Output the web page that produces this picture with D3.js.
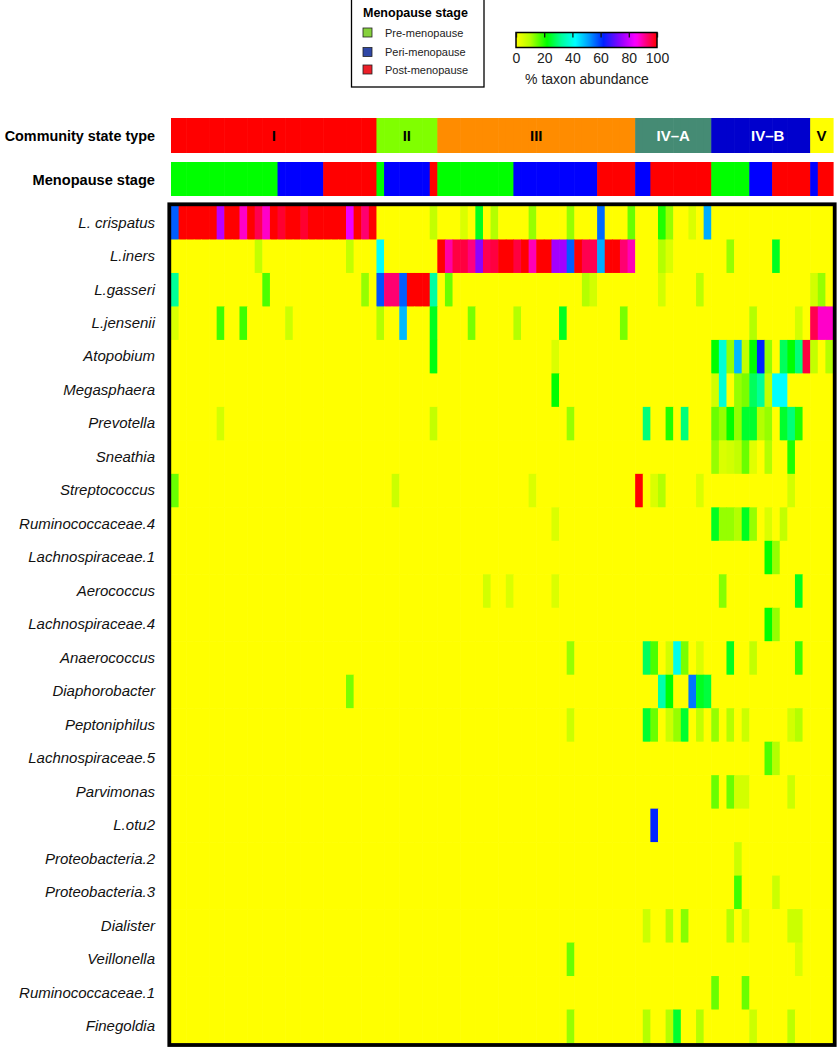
<!DOCTYPE html>
<html><head><meta charset="utf-8">
<script src="https://cdn.jsdelivr.net/npm/d3@7/dist/d3.min.js"></script>
<style>body{margin:0;background:#fff;font-family:"Liberation Sans",Arial,sans-serif}</style>
</head><body><svg id="c" width="837" height="1050"></svg>
<script>
// ---------------- data ----------------
const taxa = ["L. crispatus","L.iners","L.gasseri","L.jensenii","Atopobium","Megasphaera","Prevotella","Sneathia","Streptococcus","Ruminococcaceae.4","Lachnospiraceae.1","Aerococcus","Lachnospiraceae.4","Anaerococcus","Diaphorobacter","Peptoniphilus","Lachnospiraceae.5","Parvimonas","L.otu2","Proteobacteria.2","Proteobacteria.3","Dialister","Veillonella","Ruminococcaceae.1","Finegoldia"];
const nSamples = 87;
const cstLabels = ["I","II","III","IV\u2013A","IV\u2013B","V"];
const cstCounts = [27,8,26,10,13,3];
const menopauseStages = ["Pre-menopause","Peri-menopause","Post-menopause"];
// runs of [stage index, number of samples], left to right
const menopauseRuns = [[0,14],[1,6],[2,7],[0,1],[1,6],[2,1],[0,10],[1,11],[2,5],[1,2],[2,8],[0,5],[1,3],[2,5],[1,1],[2,2]];
const legendTicks = [0,20,40,60,80,100];
// non-zero % abundance per taxon: [sample index, value]
const crispatus = [[0,57],[1,100],[2,100],[3,100],[4,100],[5,100],[6,78],[7,100],[8,100],[9,88],[10,100],[11,95],[12,88],[13,100],[14,97],[15,100],[16,100],[17,97],[18,100],[19,100],[20,100],[21,100],[22,100],[23,83],[24,100],[25,93],[26,100],[34,8],[38,5],[40,24],[42,10],[47,12],[52,12],[56,56],[60,15],[64,20],[65,12],[68,5],[70,50]];
const iners = [[11,8],[23,8],[27,42],[35,100],[36,90],[37,96],[38,96],[39,92],[40,74],[41,95],[42,96],[43,100],[44,100],[45,96],[46,100],[47,89],[48,100],[49,100],[50,76],[51,76],[52,57],[53,100],[54,95],[55,95],[56,50],[57,100],[58,100],[59,93],[60,89],[64,10],[65,5],[73,12],[79,24]];
const gasseri = [[0,32],[12,17],[25,12],[27,58],[28,93],[29,93],[30,57],[31,100],[32,100],[33,100],[34,33],[36,15],[54,10],[55,6],[64,6],[69,9],[84,6],[85,12]];
const jensenii = [[0,5],[6,18],[9,18],[15,7],[27,10],[30,49],[34,24],[39,14],[45,10],[51,24],[59,14],[76,10],[82,6],[84,95],[85,88],[86,88]];
const atopobium = [[34,23],[50,5],[71,22],[72,38],[73,12],[74,49],[75,8],[76,22],[77,62],[78,12],[80,28],[81,22],[82,30],[83,96],[84,8],[86,10]];
const megasphaera = [[50,22],[71,6],[72,38],[74,12],[75,14],[76,28],[77,32],[78,8],[79,42],[80,42]];
const prevotella = [[6,6],[34,8],[52,12],[62,30],[65,20],[67,30],[71,15],[72,12],[73,22],[74,12],[75,25],[76,25],[77,10],[78,12],[80,25],[81,30],[82,20]];
const sneathia = [[71,12],[72,5],[73,6],[74,8],[75,15],[76,4],[78,10],[81,20]];
const streptococcus = [[0,15],[29,7],[47,5],[61,100],[63,5],[64,10],[69,5],[81,6]];
const rumino4 = [[50,5],[71,24],[72,12],[73,12],[74,10],[75,24],[76,12],[78,5],[80,8]];
const lachno1 = [[78,22],[79,12]];
const aerococcus = [[41,6],[44,5],[50,5],[72,13],[82,24]];
const lachno4 = [[78,22],[79,12]];
const anaerococcus = [[52,12],[62,28],[63,17],[65,6],[66,40],[67,14],[69,5],[73,24],[76,8],[82,18]];
const diaphorobacter = [[23,14],[64,34],[65,22],[68,55],[69,24],[70,26]];
const peptoniphilus = [[52,7],[62,25],[63,15],[65,7],[66,12],[67,25],[69,8],[71,12],[73,10],[75,7],[81,6],[82,10]];
const lachno5 = [[78,17],[79,10]];
const parvimonas = [[71,15],[73,15],[74,6],[75,6],[81,7]];
const lotu2 = [[63,62]];
const proteo2 = [[74,7]];
const proteo3 = [[74,18],[79,7]];
const dialister = [[62,7],[65,10],[67,13],[73,10],[75,6],[81,7],[82,7]];
const veillonella = [[52,15],[82,5]];
const rumino1 = [[71,15],[75,15]];
const finegoldia = [[52,12],[62,10],[65,10],[66,25],[69,10],[76,7],[81,9]];
const taxonValues = [crispatus,iners,gasseri,jensenii,atopobium,megasphaera,prevotella,sneathia,streptococcus,rumino4,lachno1,aerococcus,lachno4,anaerococcus,diaphorobacter,peptoniphilus,lachno5,parvimonas,lotu2,proteo2,proteo3,dialister,veillonella,rumino1,finegoldia];

// ---------------- styles ----------------
const cstColors = ["#ff0000","#80ff00","#ff8c00","#458b74","#0000cd","#ffff00"];
const cstTextColors = ["#000","#000","#000","#fff","#fff","#000"];
const stageBarColors = ["#00ff00","#0000ff","#ff0000"];
const stageLegendColors = ["#86d13c","#2f47a6","#ec1f28"];
const heatColor = d3.scaleLinear()
  .domain([0,10,22,32,42,52,62,75,85,92,100])
  .range(["#ffff00","#b4ff00","#00ff00","#00ff99","#00ffff","#0099ff","#0022ff","#9900ff","#ff00ff","#ff0080","#ff0000"])
  .clamp(true);

// ---------------- derived ----------------
const samples = d3.range(nSamples);
const stageOfSample = [];
menopauseRuns.forEach(([s,n]) => { for (let i=0;i<n;i++) stageOfSample.push(s); });
const cstOfSample = [];
cstCounts.forEach((n,k) => { for (let i=0;i<n;i++) cstOfSample.push(k); });
const cells = [];
taxa.forEach((t,ti) => {
  const row = new Array(nSamples).fill(0);
  taxonValues[ti].forEach(([i,v]) => row[i] = v);
  row.forEach((v,i) => cells.push({taxon:t, sample:i, value:v}));
});

// ---------------- drawing ----------------
const svg = d3.select("#c");
const x = d3.scaleBand().domain(samples).range([171, 833]).padding(0);
const y = d3.scaleBand().domain(taxa).range([206, 1043]).padding(0);
const bw = x.bandwidth();

// CST bar
const cstY = 118, cstH = 35;
svg.append("g").selectAll("rect").data(samples).join("rect")
  .attr("x", d => x(d)).attr("y", cstY).attr("width", bw + 0.6).attr("height", cstH)
  .attr("fill", d => cstColors[cstOfSample[d]]);
let start = 0;
const cstSpans = cstCounts.map((n,k) => { const s = start; start += n; return {k, s, e: start}; });
svg.append("g").selectAll("text").data(cstSpans).join("text")
  .attr("x", d => (x(d.s) + x(d.e - 1) + bw) / 2 + (d.k === 4 ? 7 : 0))
  .attr("y", cstY + 22.5)
  .attr("text-anchor", "middle").attr("font-weight", "bold").attr("font-size", 15)
  .attr("fill", d => cstTextColors[d.k])
  .text(d => cstLabels[d.k]);

// Menopause bar
const mpY = 162, mpH = 34;
svg.append("g").selectAll("rect").data(samples).join("rect")
  .attr("x", d => x(d)).attr("y", mpY).attr("width", bw + 0.6).attr("height", mpH)
  .attr("fill", d => stageBarColors[stageOfSample[d]]);

// side labels
svg.append("text").attr("x", 155).attr("y", 140.5).attr("text-anchor","end")
  .attr("font-weight","bold").attr("font-size",14.4).text("Community state type");
svg.append("text").attr("x", 155).attr("y", 184.5).attr("text-anchor","end")
  .attr("font-weight","bold").attr("font-size",14.6).text("Menopause stage");

// heatmap cells
svg.append("g").selectAll("rect").data(cells).join("rect")
  .attr("x", d => x(d.sample)).attr("y", d => y(d.taxon))
  .attr("width", bw + 0.6).attr("height", y.bandwidth() + 0.6)
  .attr("fill", d => heatColor(d.value));

// heatmap frame
svg.append("rect").attr("x", 169.3).attr("y", 204.3).attr("width", 665.4).attr("height", 840.7)
  .attr("fill","none").attr("stroke","#000").attr("stroke-width",3.8);

// row labels via axis
const yAxis = d3.axisLeft(y).tickSize(0).tickPadding(0);
const ya = svg.append("g").attr("transform","translate(155,0)").call(yAxis);
ya.select(".domain").remove();
ya.selectAll("text").attr("font-size",15).attr("font-style","italic")
  .attr("font-family",'"Liberation Sans",Arial,sans-serif').attr("fill","#111");

// ---------------- legends ----------------
// menopause legend box
const lg = svg.append("g");
lg.append("rect").attr("x",351.5).attr("y",-1).attr("width",132.5).attr("height",88)
  .attr("fill","#fff").attr("stroke","#000").attr("stroke-width",1.3);
lg.append("text").attr("x",363).attr("y",17).attr("font-weight","bold").attr("font-size",12.5)
  .text("Menopause stage");
const itemY = [28, 47.5, 65];
lg.selectAll("rect.sw").data(menopauseStages).join("rect").attr("class","sw")
  .attr("x",363).attr("y",(d,i)=>itemY[i]).attr("width",9).attr("height",9)
  .attr("fill",(d,i)=>stageLegendColors[i]).attr("stroke","#222").attr("stroke-width",0.8);
lg.selectAll("text.it").data(menopauseStages).join("text").attr("class","it")
  .attr("x",385).attr("y",(d,i)=>itemY[i]+8.5).attr("font-size",11).attr("fill","#222")
  .text(d=>d);

// colour bar
const cb = svg.append("g");
const cbx = d3.scaleLinear().domain([0,100]).range([516, 657]);
const grad = svg.append("defs").append("linearGradient").attr("id","g1");
d3.range(0,101,2).forEach(v => grad.append("stop").attr("offset", v + "%").attr("stop-color", heatColor(v)));
cb.append("rect").attr("x",516).attr("y",32.5).attr("width",141).attr("height",15)
  .attr("fill","url(#g1)").attr("stroke","#000").attr("stroke-width",1.5);
const tickAx = cb.append("g").attr("transform","translate(0,32.5)")
  .call(d3.axisBottom(cbx).tickValues(legendTicks).tickSize(5).tickFormat(""));
tickAx.select(".domain").remove();
tickAx.selectAll("line").attr("stroke","#111").attr("stroke-width",1.3);
const labAx = cb.append("g").attr("transform","translate(0,47.5)")
  .call(d3.axisBottom(cbx).tickValues(legendTicks).tickSize(0).tickPadding(6));
labAx.select(".domain").remove();
labAx.selectAll("text").attr("font-size",14).attr("fill","#222")
  .attr("font-family",'"Liberation Sans",Arial,sans-serif');
cb.append("text").attr("x",587).attr("y",84).attr("text-anchor","middle").attr("font-size",14)
  .attr("fill","#222").text("% taxon abundance");
</script></body></html>
